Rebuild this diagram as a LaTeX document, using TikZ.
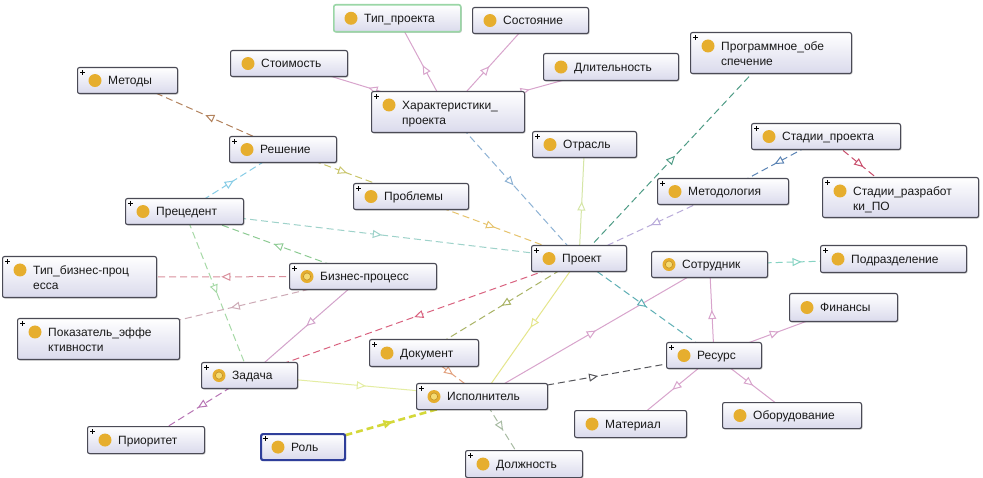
\documentclass[tikz,border=0pt]{standalone}
\usepackage{fontspec}
\setmainfont{Liberation Sans}
\usetikzlibrary{arrows.meta,decorations.markings,shadows}
\pgfdeclarelayer{bg}
\pgfsetlayers{bg,main}

\definecolor{boxline}{HTML}{4A4A55}
\definecolor{boxbot}{HTML}{DADAEC}
\definecolor{iconc}{HTML}{E6AE2E}
\definecolor{iconin}{HTML}{F5DA72}
\definecolor{cBrown}{HTML}{B3835E}
\definecolor{cLBlue}{HTML}{86CCE6}
\definecolor{cOlive}{HTML}{C9C56A}
\definecolor{cPink}{HTML}{D8A4CC}
\definecolor{cBlueG}{HTML}{8DB2D4}
\definecolor{cPaleYG}{HTML}{D5E6A6}
\definecolor{cDTeal}{HTML}{4F9C86}
\definecolor{cLav}{HTML}{B9ABDA}
\definecolor{cSteel}{HTML}{5B84B5}
\definecolor{cRed}{HTML}{C84C6A}
\definecolor{cYOr}{HTML}{E6C36C}
\definecolor{cLTeal}{HTML}{9ED2CA}
\definecolor{cGreen}{HTML}{8DCB93}
\definecolor{cLGreen}{HTML}{A6D9A6}
\definecolor{cPinkR}{HTML}{D98F9C}
\definecolor{cPinkG}{HTML}{CDAAB6}
\definecolor{cPinkL}{HTML}{D3A3CB}
\definecolor{cRedP}{HTML}{D9627F}
\definecolor{cOlTwo}{HTML}{A9B365}
\definecolor{cPaleY}{HTML}{E5E68C}
\definecolor{cPaleYTwo}{HTML}{E4EDA2}
\definecolor{cYel}{HTML}{D4D83A}
\definecolor{cPur}{HTML}{B774B4}
\definecolor{cOrg}{HTML}{E3A27F}
\definecolor{cGrayG}{HTML}{A8BBA3}
\definecolor{cDark}{HTML}{55555A}
\definecolor{cTeal}{HTML}{5EAFB5}
\definecolor{cTealG}{HTML}{86D3C3}
\definecolor{greenborder}{HTML}{9AD6A6}
\definecolor{blueborder}{HTML}{2E3E9A}

\tikzset{
  clsbox/.style={draw=boxline, line width=1.1pt, rounded corners=2pt, inner sep=0pt,
    top color=white, bottom color=boxbot,
    drop shadow={shadow xshift=1pt, shadow yshift=-1pt, fill=black, opacity=0.2}},
  lbl/.style={inner sep=0pt, text=black!90, font=\fontsize{12}{15}\selectfont},
  rel/.style={line width=1pt, postaction={decorate},
    decoration={markings, mark=at position 0.5 with {\arrow{Triangle[open,length=9pt,width=8pt,fill=white]}}}},
  dsh/.style={dash pattern=on 7pt off 4pt},
  plusc/.style={draw=black, line width=0.7pt}
}

% single-line class box
\newcommand\clsone[7]{%
  \node[clsbox,#7,minimum width={#4-#2},minimum height={#5-#3},anchor=north west] (#1) at (#2,#3) {};
  \fill[iconc] ([xshift=18pt]#1.west) circle (6.5pt);
  \node[lbl,anchor=base west] (#1-t) at ([xshift=31pt,yshift=-4.3pt]#1.west) {#6};
}
% two-line class box
\newcommand\clstwo[8]{%
  \node[clsbox,#8,minimum width={#4-#2},minimum height={#5-#3},anchor=north west] (#1) at (#2,#3) {};
  \fill[iconc] ([xshift=18pt,yshift=-14pt]#1.north west) circle (6.5pt);
  \node[lbl,anchor=base west] (#1-t) at ([xshift=31pt,yshift=-18.3pt]#1.north west) {#6};
  \node[lbl,anchor=base west] (#1-u) at ([xshift=31pt,yshift=-33.3pt]#1.north west) {#7};
}
\newcommand\pl[1]{%
  \draw[plusc] ([xshift=3pt,yshift=-5.5pt]#1.north west) -- ++(5pt,0pt)
               ([xshift=5.5pt,yshift=-3pt]#1.north west) -- ++(0pt,-5pt);
}
\newcommand\ring[1]{%
  \fill[iconin] ([xshift=18pt]#1.west) circle (3.6pt);
  \draw[iconc!80!black, line width=0.5pt] ([xshift=18pt]#1.west) circle (3.6pt);
}

\begin{document}
\begin{tikzpicture}[x=1pt,y=-1pt]
\useasboundingbox (0,0) rectangle (983,478);

% ---- classes ----
\clsone{tip}{333}{4}{460}{31}{Тип\_проекта}{draw=greenborder,line width=1.6pt}
\clsone{sost}{472}{7}{588}{33}{Состояние}{}
\clsone{stoim}{230}{50}{347}{76}{Стоимость}{}
\clsone{dlit}{543}{53}{678}{80}{Длительность}{}
\clstwo{po}{690}{32}{851}{73}{Программное\_обе}{спечение}{}
\clsone{metody}{77}{67}{177}{93}{Методы}{}
\clstwo{har}{371}{91}{524}{132}{Характеристики\_}{проекта}{}
\clsone{otr}{532}{131}{636}{157}{Отрасль}{}
\clsone{resh}{229}{136}{336}{162}{Решение}{}
\clsone{stp}{751}{123}{900}{149}{Стадии\_проекта}{}
\clsone{probl}{353}{183}{468}{209}{Проблемы}{}
\clsone{metodol}{657}{178}{788}{204}{Методология}{}
\clstwo{strpo}{822}{177}{978}{217}{Стадии\_разработ}{ки\_ПО}{}
\clsone{prec}{125}{198}{243}{224}{Прецедент}{}
\clsone{proekt}{531}{245}{626}{271}{Проект}{}
\clsone{sotr}{651}{251}{767}{277}{Сотрудник}{}
\clsone{podr}{820}{245}{966}{272}{Подразделение}{}
\clstwo{tipbp}{2}{256}{156}{297}{Тип\_бизнес-проц}{есса}{}
\clsone{bp}{289}{263}{436}{289}{Бизнес-процесс}{}
\clsone{fin}{789}{293}{897}{321}{Финансы}{}
\clstwo{pok}{17}{318}{179}{359}{Показатель\_эффе}{ктивности}{}
\clsone{dok}{369}{339}{478}{366}{Документ}{}
\clsone{res}{666}{342}{761}{368}{Ресурс}{}
\clsone{zad}{201}{362}{297}{388}{Задача}{}
\clsone{isp}{416}{383}{547}{409}{Исполнитель}{}
\clsone{mat}{574}{410}{686}{437}{Материал}{}
\clsone{obor}{722}{402}{861}{428}{Оборудование}{}
\clsone{prior}{87}{426}{204}{453}{Приоритет}{}
\clsone{rol}{260}{433}{344}{459}{Роль}{draw=blueborder,line width=2.2pt}
\clsone{dolzh}{465}{450}{582}{477}{Должность}{}

% expand markers
\pl{po}\pl{metody}\pl{har}\pl{otr}\pl{resh}\pl{stp}\pl{probl}\pl{metodol}\pl{strpo}
\pl{prec}\pl{proekt}\pl{podr}\pl{tipbp}\pl{bp}\pl{pok}\pl{dok}\pl{res}\pl{zad}
\pl{isp}\pl{prior}\pl{rol}\pl{dolzh}
% equivalent-class icons
\ring{bp}\ring{zad}\ring{isp}\ring{sotr}

% ---- connectors ----
\begin{pgfonlayer}{bg}
\fill[white] (0,0) rectangle (983,478);
\draw[rel,dsh,cBrown] (resh.center) -- (metody.center);
\draw[rel,dsh,cLBlue] (prec.center) -- (resh.center);
\draw[rel,dsh,cOlive] (resh.center) -- (probl.center);
\draw[rel,cPink] (har.center) -- (stoim.center);
\draw[rel,cPink] (har.center) -- (tip.center);
\draw[rel,cPink] (har.center) -- (sost.center);
\draw[rel,cPink] (har.center) -- (dlit.center);
\draw[rel,dsh,cBlueG] (har.center) -- (proekt.center);
\draw[rel,cPaleYG] (proekt.center) -- (otr.center);
\draw[rel,dsh,cDTeal] (proekt.center) -- (po.center);
\draw[rel,dsh,cLav] (metodol.center) -- (proekt.center);
\draw[rel,dsh,cSteel] (stp.center) -- (metodol.center);
\draw[rel,dsh,cRed] (stp.center) -- (strpo.center);
\draw[rel,dsh,cYOr] (probl.center) -- (proekt.center);
\draw[rel,dsh,cLTeal] (prec.center) -- (proekt.center);
\draw[rel,dsh,cGreen] (bp.center) -- (prec.center);
\draw[rel,dsh,cLGreen] (prec.center) -- (zad.center);
\draw[rel,dsh,cPinkR] (bp.center) -- (tipbp.center);
\draw[rel,dsh,cPinkG] (bp.center) -- (pok.center);
\draw[rel,cPinkL] (bp.center) -- (zad.center);
\draw[rel,dsh,cRedP] (proekt.center) -- (zad.center);
\draw[rel,dsh,cOlTwo] (proekt.center) -- (dok.center);
\draw[rel,cPaleY] (proekt.center) -- (isp.center);
\draw[rel,cPaleYTwo] (zad.center) -- (isp.center);
\draw[rel,dsh,cYel,line width=2.6pt] (rol.center) -- (isp.center);
\draw[rel,dsh,cPur] (zad.center) -- (prior.center);
\draw[rel,dsh,cOrg] (dok.center) -- (isp.center);
\draw[rel,dsh,cGrayG] (isp.center) -- (dolzh.center);
\draw[rel,dsh,cDark] (isp.center) -- (res.center);
\draw[rel,cPink] (isp.center) -- (sotr.center);
\draw[rel,dsh,cTeal] (proekt.center) -- (res.center);
\draw[rel,cPink] (res.center) -- (sotr.center);
\draw[rel,dsh,cTealG] (sotr.center) -- (podr.center);
\draw[rel,cPink] (res.center) -- (fin.center);
\draw[rel,cPink] (res.center) -- (mat.center);
\draw[rel,cPink] (res.center) -- (obor.center);
\end{pgfonlayer}
\end{tikzpicture}
\end{document}
